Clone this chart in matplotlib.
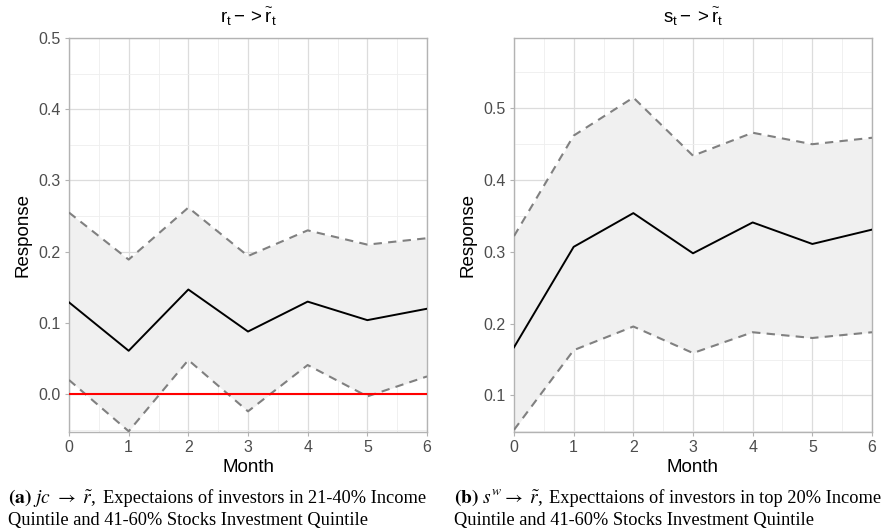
import matplotlib

matplotlib.use("Agg")
import matplotlib.pyplot as plt
from matplotlib.ticker import MultipleLocator

plt.rcParams["font.family"] = ["Liberation Sans", "DejaVu Sans"]
plt.rcParams["mathtext.fontset"] = "custom"
plt.rcParams["mathtext.rm"] = "Liberation Sans"
plt.rcParams["mathtext.it"] = "Liberation Sans:italic"

months = [0, 1, 2, 3, 4, 5, 6]

# panel (a): jc -> r~
resp_a = [0.129, 0.061, 0.147, 0.088, 0.130, 0.104, 0.120]
upper_a = [0.255, 0.189, 0.262, 0.194, 0.230, 0.210, 0.219]
lower_a = [0.020, -0.052, 0.048, -0.024, 0.041, -0.003, 0.025]

# panel (b): s^w -> r~
resp_b = [0.167, 0.307, 0.354, 0.298, 0.341, 0.311, 0.331]
upper_b = [0.322, 0.462, 0.515, 0.434, 0.466, 0.450, 0.459]
lower_b = [0.052, 0.163, 0.196, 0.159, 0.188, 0.180, 0.188]

titles = [r"$\mathrm{r_t - > \widetilde{r}_t}$", r"$\mathrm{s_t - > \widetilde{r}_t}$"]
# caption: (label + math, rest of line 1, line 2)
captions = [
    (r"$\mathbf{(a)}\ jc\ \rightarrow\ \tilde{r}$,",
     "Expectaions of investors in 21-40% Income",
     "Quintile and 41-60% Stocks Investment Quintile"),
    (r"$\mathbf{(b)}\ s^w \rightarrow\ \tilde{r}$,",
     "Expecttaions of investors in top 20% Income",
     "Quintile and 41-60% Stocks Investment Quintile"),
]

fig = plt.figure(figsize=(8.83, 5.31), dpi=100)
ax_a = fig.add_axes([69 / 883, 1 - 432 / 531, 358 / 883, 394 / 531])
ax_b = fig.add_axes([514 / 883, 1 - 432 / 531, 358 / 883, 394 / 531])

panels = [
    (ax_a, resp_a, upper_a, lower_a, (-0.053, 0.5), True),
    (ax_b, resp_b, upper_b, lower_b, (0.049, 0.598), False),
]

for i, (ax, resp, up, lo, ylim, zero_line) in enumerate(panels):
    ax.fill_between(months, lo, up, color="#f0f0f0", zorder=1, lw=0)
    ax.plot(months, up, ls=(0, (4, 3)), color="#808080", lw=1.5, zorder=3)
    ax.plot(months, lo, ls=(0, (4, 3)), color="#808080", lw=1.5, zorder=3)
    ax.plot(months, resp, color="black", lw=1.4, zorder=4)
    if zero_line:
        ax.axhline(0, color="red", lw=1.5, zorder=5)

    ax.set_xlim(0, 6)
    ax.set_ylim(*ylim)
    ax.xaxis.set_major_locator(MultipleLocator(1))
    ax.xaxis.set_minor_locator(MultipleLocator(0.5))
    ax.yaxis.set_major_locator(MultipleLocator(0.1))
    ax.yaxis.set_minor_locator(MultipleLocator(0.05))
    ax.yaxis.set_major_formatter(lambda v, p: f"{v:.1f}")
    ax.grid(which="major", color="#dcdcdc", lw=0.9, zorder=0)
    ax.grid(which="minor", color="#eeeeee", lw=0.6, zorder=0)
    ax.set_axisbelow(True)
    for s in ax.spines.values():
        s.set_color("#b3b3b3")
        s.set_linewidth(1.0)
    ax.tick_params(which="major", length=3, color="#b3b3b3", labelsize=11.5,
                   labelcolor="#4d4d4d", pad=3)
    ax.tick_params(which="minor", length=0)

    ax.set_title(titles[i], fontsize=13.5, pad=11)
    ax.set_xlabel("Month", fontsize=13.5, labelpad=3)
    ax.set_ylabel("Response", fontsize=13.5, labelpad=5)

for i, x0 in enumerate([8, 454]):
    head, rest, line2 = captions[i]
    fig.text(x0 / 883, 1 - 503 / 531, head, fontsize=14,
             family="Liberation Serif", va="baseline", math_fontfamily="stix")
    fig.text((x0 + 95) / 883, 1 - 503 / 531, rest, fontsize=13.2,
             family="Liberation Serif", va="baseline")
    fig.text(x0 / 883, 1 - 525 / 531, line2, fontsize=13.2,
             family="Liberation Serif", va="baseline")

fig.savefig("out.png", dpi=100)
